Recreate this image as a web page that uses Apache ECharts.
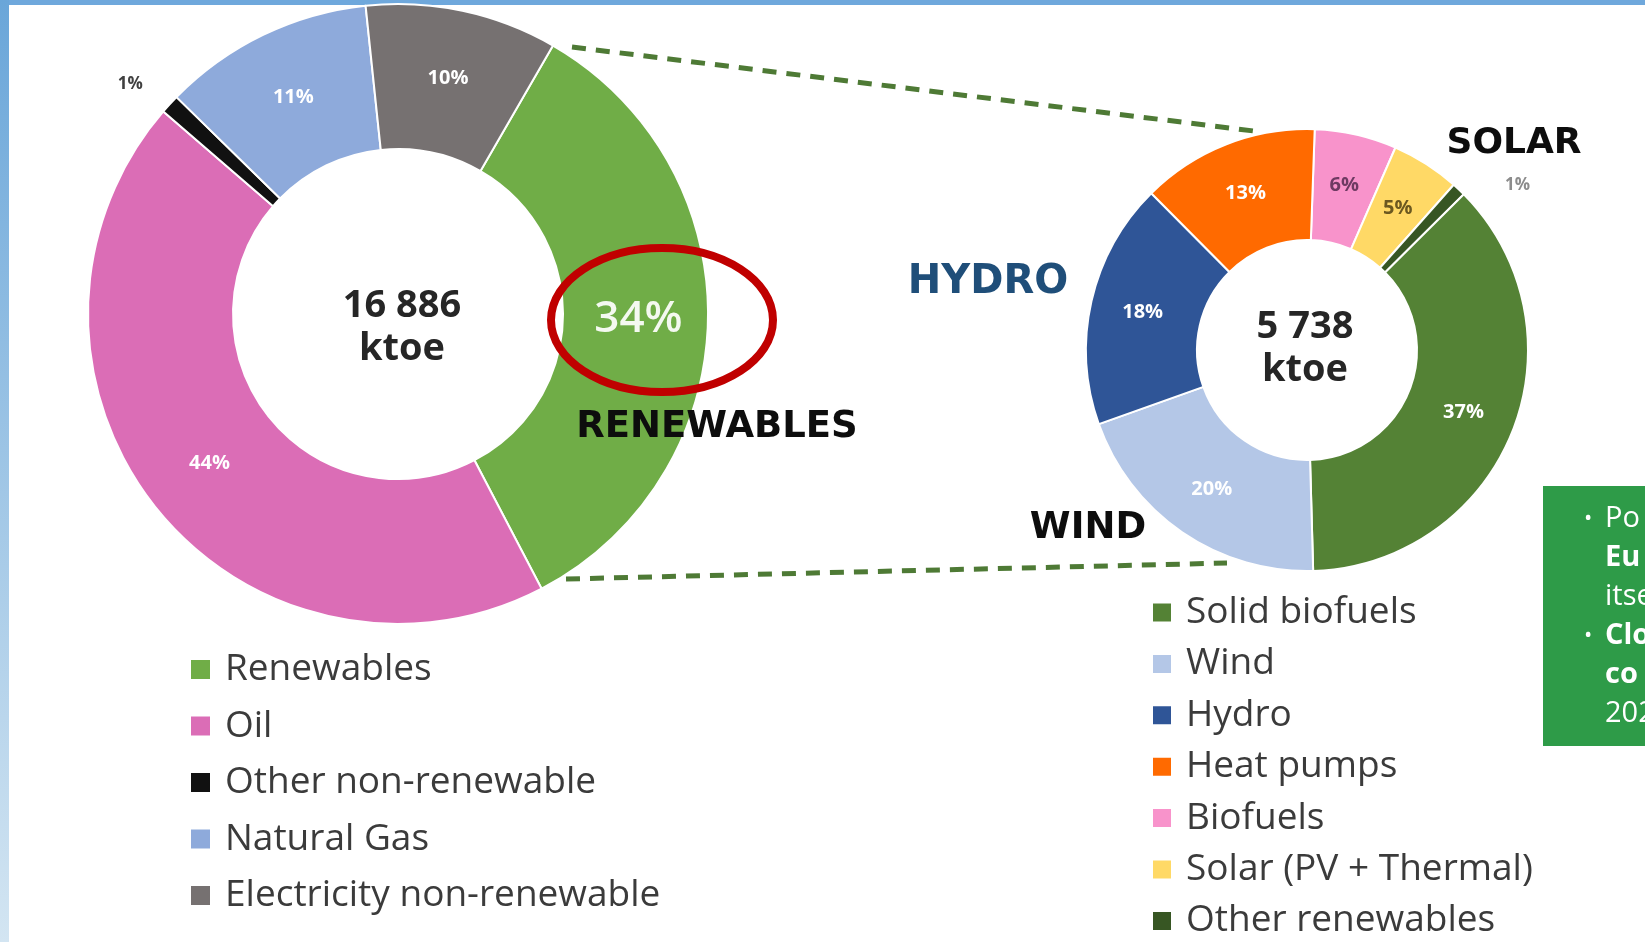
<!DOCTYPE html>
<html>
<head>
<meta charset="utf-8">
<title>Final energy consumption</title>
<script src="https://cdn.jsdelivr.net/npm/echarts@6/dist/echarts.min.js"></script>
<style>
  html, body { margin: 0; padding: 0; background: #fff; }
  #chart { width: 1645px; height: 942px; }
</style>
</head>
<body>
<div id="chart"></div>
<script>
  // final energy consumption by source, in percent
  const mixNames = ['Renewables', 'Oil', 'Other non-renewable', 'Natural Gas', 'Electricity non-renewable']
  const mixShares = [34, 44, 1, 11, 10]
  const mixColors = ['#70ad47', '#db6db6', '#111111', '#8eaadb', '#767171']
  const mixTotal = ['16 886', 'ktoe']

  // split of the renewables, clockwise from the top
  const renewNames = ['Biofuels', 'Solar (PV + Thermal)', 'Other renewables', 'Solid biofuels', 'Wind', 'Hydro', 'Heat pumps']
  const renewShares = [6, 5, 1, 37, 20, 18, 13]
  const renewColors = ['#f893cb', '#ffd966', '#375623', '#548235', '#b4c7e7', '#2f5597', '#ff6a00']
  const renewLegend = ['Solid biofuels', 'Wind', 'Hydro', 'Heat pumps', 'Biofuels', 'Solar (PV + Thermal)', 'Other renewables']
  const renewTotal = ['5 738', 'ktoe']

  const tags = ['RENEWABLES', 'HYDRO', 'SOLAR', 'WIND']
  const boxLines = [['• ', 'Po', 'normal'], ['', 'Eu', 'bold'], ['', 'itse', 'normal'], ['• ', 'Clo', 'bold'], ['', 'co', 'bold'], ['', '202', 'normal']]

  // label tweaks for single slices
  const labelTweaks = {
    'Renewables': { label: { fontSize: 44, fontWeight: 600, color: 'rgba(255,255,255,0.92)' } },
    'Other non-renewable': { label: { position: 'outside', color: '#404040', fontSize: 17 }, labelLine: { show: false, length: 30, length2: 0 } },
    'Biofuels': { label: { color: '#6e3a62' } },
    'Solar (PV + Thermal)': { label: { color: '#6b5820' } },
    'Other renewables': { label: { position: 'outside', color: '#8c8c8c', fontSize: 17 }, labelLine: { show: false, length: 6, length2: 37 } }
  }

  function pieData (names, values, colors) {
    return names.map((name, i) => Object.assign({
      name: name,
      value: values[i],
      itemStyle: { color: colors[i] }
    }, labelTweaks[name] || {}))
  }

  const sliceLabel = {
    position: 'inside',
    formatter: '{c}%',
    color: '#fff',
    fontFamily: 'Open Sans',
    fontSize: 20,
    fontWeight: 'bold'
  }

  const legendText = {
    fontFamily: 'Open Sans',
    fontSize: 37,
    color: '#3b3b3b',
    lineHeight: 36,
    padding: [0, 0, 0, 9]
  }

  function tagText (text, x, y, size, color) {
    return {
      type: 'text', x: x, y: y, z: 120,
      style: { text: text, fill: color, font: 'bold ' + size + 'px "DejaVu Sans"', align: 'center', verticalAlign: 'middle' }
    }
  }

  function centerText (lines, x, y) {
    return {
      type: 'text', x: x, y: y, z: 120,
      style: { text: lines.join('\n'), fill: '#262626', font: 'bold 38px "Open Sans"', lineHeight: 43, align: 'center', verticalAlign: 'middle' }
    }
  }

  const dash = { stroke: '#4e7a35', lineWidth: 5, lineDash: [14, 10] }

  const graphics = [
    { type: 'rect', z: 1, shape: { x: 0, y: 0, width: 1645, height: 5 }, style: { fill: '#6fa8dc' } },
    { type: 'rect', z: 1, shape: { x: 0, y: 0, width: 9, height: 942 },
      style: { fill: { type: 'linear', x: 0, y: 0, x2: 0, y2: 1, colorStops: [{ offset: 0, color: '#6aa6d9' }, { offset: 1, color: '#d3e5f2' }] } } },
    { type: 'line', z: 110, shape: { x1: 572, y1: 47, x2: 1254, y2: 131 }, style: dash },
    { type: 'line', z: 110, shape: { x1: 566, y1: 579, x2: 1227, y2: 563 }, style: dash },
    { type: 'ellipse', z: 110, shape: { cx: 662, cy: 320, rx: 111, ry: 72 }, style: { fill: 'none', stroke: '#c00000', lineWidth: 8 } },
    centerText(mixTotal, 402, 328),
    centerText(renewTotal, 1305, 349),
    tagText(tags[0], 717, 427, 37, '#0d0d0d'),
    tagText(tags[1], 988, 283, 40, '#1f4e79'),
    tagText(tags[2], 1514, 144, 36, '#0d0d0d'),
    tagText(tags[3], 1088, 528, 37, '#0d0d0d'),
    { type: 'rect', z: 100, shape: { x: 1543, y: 486, width: 110, height: 260 }, style: { fill: '#2e9b48' } }
  ]

  boxLines.forEach((line, i) => {
    const y = 519 + i * 39
    if (line[0]) {
      graphics.push({ type: 'text', x: 1584, y: y, z: 120,
        style: { text: '•', fill: '#fff', font: '22px "Open Sans"', verticalAlign: 'middle' } })
    }
    graphics.push({ type: 'text', x: 1605, y: y, z: 120,
      style: { text: line[1], fill: '#fff', font: line[2] + ' 29px "Open Sans"', verticalAlign: 'middle' } })
  })

  const option = {
    backgroundColor: '#ffffff',
    animation: false,
    legend: [
      {
        orient: 'vertical',
        left: 189,
        top: 651,
        height: 400,
        padding: 0,
        itemWidth: 21,
        itemHeight: 21,
        itemGap: 19.5,
        icon: 'rect',
        selectedMode: false,
        data: mixNames,
        textStyle: legendText
      },
      {
        orient: 'vertical',
        left: 1151,
        top: 594,
        height: 400,
        padding: 0,
        itemWidth: 20,
        itemHeight: 20,
        itemGap: 14.4,
        icon: 'rect',
        selectedMode: false,
        data: renewLegend,
        textStyle: legendText
      }
    ],
    graphic: graphics,
    series: [
      {
        name: 'Energy mix',
        type: 'pie',
        center: [398, 314],
        radius: [165, 310],
        startAngle: 60,
        avoidLabelOverlap: false,
        silent: true,
        itemStyle: { borderColor: '#fff', borderWidth: 2 },
        label: sliceLabel,
        labelLine: { show: false },
        data: pieData(mixNames, mixShares, mixColors)
      },
      {
        name: 'Renewable sources',
        type: 'pie',
        center: [1307, 350],
        radius: [110, 221],
        startAngle: 88,
        avoidLabelOverlap: false,
        silent: true,
        itemStyle: { borderColor: '#fff', borderWidth: 2 },
        label: sliceLabel,
        labelLine: { show: false },
        data: pieData(renewNames, renewShares, renewColors)
      }
    ]
  }

  const chart = echarts.init(document.getElementById('chart'))
  chart.setOption(option)
  window.addEventListener('resize', () => chart.resize())
</script>
</body>
</html>
